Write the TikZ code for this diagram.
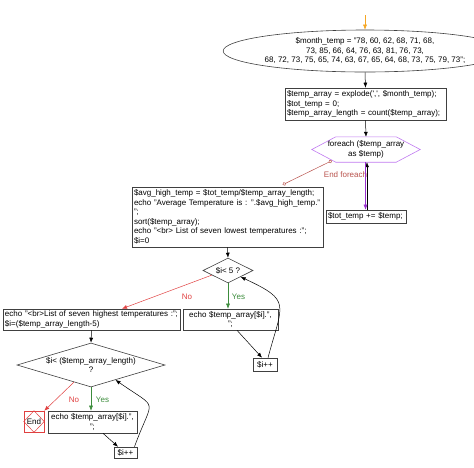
\documentclass[tikz,border=0pt]{standalone}
\usepackage{fontspec}
\setmainfont{Liberation Sans}
\usetikzlibrary{shapes.geometric, arrows.meta, calc}
\definecolor{fcline}{HTML}{404040}
\definecolor{fcstart}{HTML}{F5A623}
\definecolor{fcloop}{HTML}{C07AF0}
\definecolor{fcloopar}{HTML}{9A30D0}
\definecolor{fcend}{HTML}{B8524C}
\definecolor{fcno}{HTML}{E04040}
\definecolor{fcyes}{HTML}{3C8C3C}
\tikzset{
  % istruzione (testo a sinistra)
  stmt/.style={draw=fcline, line width=0.6pt, inner sep=2pt, align=left, fill=white},
  % istruzione (testo centrato)
  stmtc/.style={stmt, align=center},
  % dati iniziali
  datanode/.style={ellipse, draw=fcline, line width=0.6pt, inner sep=0pt, align=center},
  % decisione
  decision/.style={diamond, draw=fcline, line width=0.6pt, inner sep=0pt, align=center},
  % ciclo foreach
  loopline/.style={draw=fcloop, line width=0.6pt},
  % fine
  stopnode/.style={draw=fcno, line width=0.5pt, inner sep=0pt, minimum width=20pt, minimum height=21pt},
  % frecce del flusso
  flow/.style={-{Latex[length=5pt,width=4pt]}, line width=0.5pt},
  noflow/.style={flow, fcno},
  yesflow/.style={flow, fcyes},
  endline/.style={{Circle[open,length=3.5pt]}-{Circle[open,length=3.5pt]}, line width=0.5pt, fcend},
}

\begin{document}
\begin{tikzpicture}[x=1pt, y=-1pt, every node/.style={font=\fontsize{8}{9.5}\selectfont}]
  \useasboundingbox (0,0) rectangle (474,467);
  \coordinate (start) at (365,15);
  \node[datanode, minimum width=215pt, minimum height=42pt] (month) at (365,51) {\$month\_temp = "78, 60, 62, 68, 71, 68,\\73, 85, 66, 64, 76, 63, 81, 76, 73,\\68, 72, 73, 75, 65, 74, 63, 67, 65, 64, 68, 73, 75, 79, 73";};
  \node[stmt, text width=157pt, minimum height=32pt] (explode) at (365.5,104) {\$temp\_array = explode(\textquotesingle,\textquotesingle, \$month\_temp);\\\$tot\_temp = 0;\\\$temp\_array\_length = count(\$temp\_array);};
  \node[minimum width=108pt, minimum height=25pt, inner sep=0pt, align=center] (loop) at (366,149.5) {foreach (\$temp\_array\\as \$temp)};
  \draw[loopline] (loop.west) -- ([xshift=24pt]loop.north west) -- ([xshift=-24pt]loop.north east) -- (loop.east) -- ([xshift=-24pt]loop.south east) -- ([xshift=24pt]loop.south west) -- cycle;
  \node[stmt, text width=76pt, minimum height=13pt] (tot) at (366,216.5) {\$tot\_temp += \$temp;};
  \node[stmt, text width=187pt, minimum height=60pt] (avg) at (227.5,217) {\$avg\_high\_temp = \$tot\_temp/\$temp\_array\_length;\\echo "Average Temperature is : ".\$avg\_high\_temp."\\";\\sort(\$temp\_array);\\echo "<br> List of seven lowest temperatures :";\\\$i=0};
  \node[decision, aspect=2, minimum width=50pt, minimum height=25pt] (d1) at (228,270.5) {\$i< 5 ?};
  \node[stmt, text width=173pt, minimum height=21pt] (high) at (91.5,319.5) {echo "<br>List of seven highest temperatures :";\\\$i=(\$temp\_array\_length-5)};
  \node[stmtc, text width=91pt, minimum height=21pt] (show) at (230.5,319.5) {echo \$temp\_array[\$i].",\\";};
  \node[stmtc, text width=20pt, minimum height=13pt] (inc1) at (265,364.5) {\$i++};
  \node[decision, aspect=3.4, minimum width=148pt, minimum height=44pt] (d2) at (91,365) {\$i< (\$temp\_array\_length)\\?};
  \node[stopnode] (stop) at (34,421.5) {End};
  \draw[fcno, line width=0.5pt] (stop.north) -- (stop.east) -- (stop.south) -- (stop.west) -- cycle;
  \node[stmtc, text width=85pt, minimum height=22pt] (show2) at (92.5,422) {echo \$temp\_array[\$i].",\\";};
  \node[stmtc, text width=19pt, minimum height=11pt] (inc2) at (125.5,452.5) {\$i++};
  % collegamenti
  \draw[flow, fcstart] (start) -- (month.north);
  \draw[flow] (month.south) -- (explode.north);
  \draw[flow] (explode.south) -- (loop.north);
  \draw[endline] ([xshift=20pt,yshift=1.5pt]loop.south west) -- ([xshift=151pt,yshift=2pt]avg.north west);
  \node[text=fcend] (endfe) at (345.5,175) {End foreach};
  \draw[flow] ([xshift=1pt]tot.north) -- ([xshift=1pt]loop.south);
  \draw[flow, fcloopar] ([xshift=-0.5pt]loop.south) -- ([xshift=-0.5pt]tot.north);
  \draw[flow] (avg.south) -- (d1.north);
  \draw[noflow] ($(d1.west)!0.36!(d1.south)$) -- ([xshift=30.5pt]high.north);
  \node[text=fcno] (no1) at (187,297) {No};
  \draw[yesflow] (d1.south) -- (d1.south |- show.north);
  \node[text=fcyes] (yes1) at (238.5,297) {Yes};
  \draw[flow] ([xshift=6.5pt]show.south) -- ([xshift=-3pt]inc1.north);
  \draw[flow] ([xshift=3pt]inc1.north) to[out=75, in=-25, looseness=1.7] (d1.south east);
  \draw[flow] (high.south) -- (d2.north);
  \draw[noflow] ($(d2.west)!0.77!(d2.south)$) -- (stop.north east);
  \node[text=fcno] (no2) at (74,400) {No};
  \draw[yesflow] (d2.south) -- (d2.south |- show2.north);
  \node[text=fcyes] (yes2) at (102.5,400) {Yes};
  \draw[flow] ([xshift=10.5pt]show2.south) -- ([xshift=-7.5pt]inc2.north);
  \draw[flow] ([xshift=9pt]inc2.north) to[out=70, in=-35, looseness=2] ($(d2.south)!0.33!(d2.east)$);
\end{tikzpicture}
\end{document}
